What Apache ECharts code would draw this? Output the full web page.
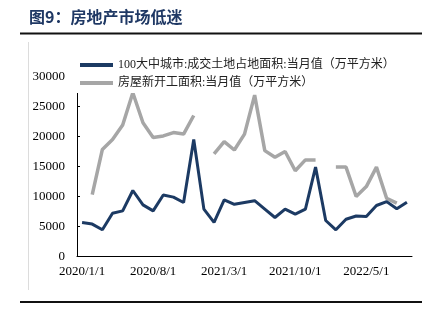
<!DOCTYPE html>
<html>
<head>
<meta charset="utf-8">
<script src="https://cdn.jsdelivr.net/npm/echarts@6/dist/echarts.min.js"></script>
<style>html,body{margin:0;padding:0;background:#fff;}#c{width:430px;height:325px;}</style>
</head>
<body>
<div id="c"></div>
<script>
// Monthly categories 2020/1 .. 2022/9
const categories = [
  "2020/1/1","2020/2/1","2020/3/1","2020/4/1","2020/5/1","2020/6/1","2020/7/1","2020/8/1","2020/9/1","2020/10/1","2020/11/1","2020/12/1",
  "2021/1/1","2021/2/1","2021/3/1","2021/4/1","2021/5/1","2021/6/1","2021/7/1","2021/8/1","2021/9/1","2021/10/1","2021/11/1","2021/12/1",
  "2022/1/1","2022/2/1","2022/3/1","2022/4/1","2022/5/1","2022/6/1","2022/7/1","2022/8/1","2022/9/1"
];
const landArea = [
  5650, 5400, 4450, 7200, 7600, 11000, 8600, 7600, 10250, 9900, 9000, 19500,
  7900, 5700, 9450, 8700, 9000, 9300, 7900, 6500, 7900, 7050, 7900, 14900,
  6000, 4450, 6200, 6750, 6650, 8500, 9150, 7950, 9050
];
const newStarts = [
  null, 10300, 17850, 19500, 21900, 27300, 22300, 19850, 20100, 20650, 20400, 23500,
  null, 17100, 19150, 17750, 20400, 26900, 17650, 16550, 17500, 14300, 16100, 16100,
  null, 14900, 14900, 10000, 11650, 14900, 9700, 8900, null
];
const seriesNames = ["100大中城市:成交土地占地面积:当月值（万平方米）", "房屋新开工面积:当月值（万平方米）"];
const titleText = "图9：房地产市场低迷";

const chart = echarts.init(document.getElementById('c'), null, {renderer: 'canvas'});
const serif = "'Liberation Serif', 'Noto Sans CJK SC', serif";
chart.setOption({
  animation: false,
  backgroundColor: '#fff',
  title: {
    text: titleText, left: 29, top: 9, padding: 0,
    textStyle: {fontSize: 16, fontWeight: 'bold', color: '#1f3864', fontFamily: "'Noto Sans CJK SC', sans-serif"}
  },
  graphic: [
    {type: 'line', shape: {x1: 20, y1: 33.5, x2: 422, y2: 33.5}, style: {stroke: '#111', lineWidth: 2}},
    {type: 'line', shape: {x1: 20, y1: 302, x2: 422, y2: 302}, style: {stroke: '#111', lineWidth: 2}},
    {type: 'line', shape: {x1: 28.5, y1: 42, x2: 28.5, y2: 290}, style: {stroke: '#dcdcdc', lineWidth: 1}}
  ],
  legend: {
    orient: 'vertical', left: 70, top: 53,
    padding: [5, 10, 3, 10],
    backgroundColor: '#fff',
    itemWidth: 33, itemHeight: 4, itemGap: 4,
    icon: 'rect',
    textStyle: {fontSize: 12, lineHeight: 14, color: '#222', fontFamily: serif},
    data: seriesNames
  },
  grid: {left: 77, right: 18, top: 76.5, bottom: 68.5},
  xAxis: {
    type: 'category', data: categories, boundaryGap: true,
    axisLine: {lineStyle: {color: '#000', width: 1}},
    axisTick: {inside: true, length: 3, interval: 6, alignWithLabel: false, lineStyle: {color: '#000'}},
    axisLabel: {interval: 6, fontSize: 13, color: '#000', fontFamily: serif, margin: 9},
    splitLine: {show: false}
  },
  yAxis: {
    type: 'value', min: 0, max: 30000, interval: 5000,
    axisLine: {show: true, lineStyle: {color: '#000', width: 1}},
    axisTick: {show: true, inside: true, length: 3, lineStyle: {color: '#000'}},
    axisLabel: {fontSize: 13, color: '#000', fontFamily: serif, margin: 12, formatter: function (v) { return String(v); }},
    splitLine: {show: false}
  },
  series: [
    {
      name: seriesNames[0], type: 'line', data: landArea, showSymbol: false, symbol: 'none',
      connectNulls: false, z: 3,
      lineStyle: {color: '#1c3a63', width: 3}, itemStyle: {color: '#1c3a63'}
    },
    {
      name: seriesNames[1], type: 'line', data: newStarts, showSymbol: false, symbol: 'none',
      connectNulls: false, z: 2,
      lineStyle: {color: '#a6a6a6', width: 3.5}, itemStyle: {color: '#a6a6a6'}
    }
  ]
});
</script>
</body>
</html>
